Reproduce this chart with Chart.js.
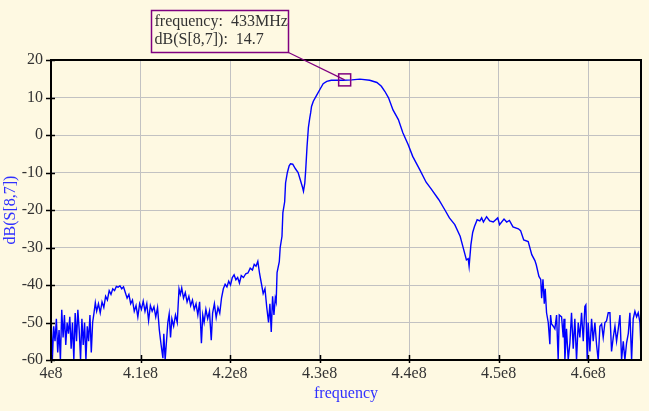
<!DOCTYPE html>
<html>
<head>
<meta charset="utf-8">
<script src="https://cdn.jsdelivr.net/npm/chart.js@4.4.1/dist/chart.umd.min.js"></script>
<style>
  html, body { margin: 0; padding: 0; background: #fef9e2; }
  #wrap { width: 649px; height: 411px; }
</style>
</head>
<body>
<div id="wrap"><canvas id="sparamChart" width="649" height="411"></canvas></div>
<script>
// frequency sweep in MHz
const freqMHz = [
  400.0, 400.15, 400.3, 400.45, 400.6, 400.75, 400.9, 401.05, 401.2, 401.35,
  401.5, 401.65, 401.8, 401.95, 402.1, 402.25, 402.4, 402.55, 402.7, 402.85,
  403.0, 403.15, 403.3, 403.45, 403.6, 403.75, 403.9, 404.05, 404.2, 404.35,
  404.5, 404.65, 404.8, 404.95, 405.1, 405.3, 405.5, 405.7, 405.9, 406.1,
  406.3, 406.5, 406.7, 406.9, 407.1, 407.3, 407.5, 407.7, 407.9, 408.1,
  408.3, 408.5, 408.7, 408.9, 409.1, 409.3, 409.5, 409.7, 409.9, 410.1,
  410.3, 410.5, 410.7, 410.9, 411.1, 411.3, 411.5, 411.7, 411.9, 412.1,
  412.3, 412.5, 412.6, 412.75, 412.9, 413.05, 413.2, 413.35, 413.5, 413.7,
  413.9, 414.1, 414.3, 414.45, 414.6, 414.8, 415.0, 415.2, 415.4, 415.6,
  415.8, 416.0, 416.2, 416.4, 416.6, 416.8, 416.95, 417.1, 417.3, 417.5,
  417.7, 417.9, 418.05, 418.25, 418.45, 418.65, 418.85, 419.05, 419.25, 419.45,
  419.65, 419.85, 420.05, 420.25, 420.45, 420.65, 420.85, 421.05, 421.25, 421.5,
  421.75, 422.0, 422.25, 422.5, 422.7, 422.9, 423.1, 423.3, 423.5, 423.7,
  423.9, 424.1, 424.3, 424.45, 424.6, 424.75, 424.9, 425.05, 425.15, 425.25,
  425.5, 425.6, 425.8, 425.9, 426.1, 426.2, 426.4, 426.6, 426.75, 427.0,
  427.3, 427.6, 427.85, 428.1, 428.2, 428.35, 428.45, 428.6, 428.75, 428.9,
  429.0, 429.1, 429.3, 429.65, 430.0, 430.4, 430.8, 431.3, 432.6, 433.6,
  434.5, 435.6, 436.4, 436.9, 437.3, 437.7, 438.2, 438.8, 439.3, 439.9,
  440.4, 441.2, 441.9, 442.5, 443.3, 444.0, 444.5, 445.1, 445.7, 446.0,
  446.4, 446.6, 446.7, 446.9, 447.1, 447.3, 447.6, 447.9, 448.1, 448.3,
  448.65, 449.0, 449.4, 449.9, 450.1, 450.6, 450.9, 451.2, 451.6, 452.2,
  452.45, 452.8, 453.3, 453.7, 454.05, 454.2, 454.5, 454.7, 454.8, 454.95,
  455.1, 455.2, 455.35, 455.54, 455.72, 455.8, 455.91, 456.1, 456.28, 456.47,
  456.65, 456.77, 457.03, 457.21, 457.3, 457.4, 457.58, 457.77, 457.96, 458.14,
  458.33, 458.51, 458.7, 458.89, 459.07, 459.26, 459.45, 459.63, 459.74, 459.89,
  460.0, 460.19, 460.38, 460.56, 460.75, 460.94, 461.12, 461.31, 461.5, 461.68,
  461.87, 462.05, 462.24, 462.43, 462.61, 462.8, 462.99, 463.17, 463.36, 463.55,
  463.73, 463.92, 464.1, 464.29, 464.48, 464.66, 464.85, 465.03, 465.22, 465.41,
  465.59, 465.78, 465.9
];

// dB(S[8,7]) at each frequency above
const gainDb = [
  -48, -60, -51, -55, -49, -58, -52, -60, -46.6, -54,
  -48, -56, -50, -53, -48.5, -57, -50, -60, -47.5, -55,
  -46.6, -52, -60, -49, -56, -50, -60, -51, -55, -48,
  -58, -50, -47.5, -44.7, -47, -45, -47.4, -44.5, -46, -43,
  -44, -41.5, -42.5, -41, -41.5, -40.4, -40.6, -40.2, -41, -40.5,
  -42, -43.5, -42.5, -45, -44, -47, -45.5, -48.5, -45, -46.5,
  -44.3, -47, -45, -49.5, -45.5, -47, -45.8, -48.5, -46, -52,
  -56, -59.5, -53, -60, -55, -50, -47.7, -54, -49, -51,
  -48, -50, -41, -42.5, -40.8, -43.5, -42, -44.5, -43, -45.5,
  -44, -46.5, -45, -48, -44.5, -55.5, -48, -50, -46.5, -49,
  -47, -54.7, -47.5, -45, -48.7, -46, -47.5, -43.4, -41, -39.8,
  -40.5, -39, -40, -38, -37.3, -38.6, -38, -39.5, -37.5, -38,
  -37, -36.8, -35.5, -36, -34.5, -35, -33.7, -37, -39.6, -42.3,
  -41, -46, -50, -45, -52.5, -43, -48, -43.5, -44.5, -36.7,
  -33.8, -30, -27, -20.7, -17.8, -12.8, -10, -8.2, -7.7, -7.8,
  -9, -10, -12, -14, -15, -12.8, -9.3, -3, 2, 4.5,
  5.9, 7.6, 9, 10.5, 12, 13.7, 14.3, 14.6, 14.6, 14.7,
  14.9, 14.6, 14.0, 13, 11.6, 9.9, 6.7, 4.1, 0.6, -2.6,
  -5.7, -9.3, -12.6, -14.5, -17.2, -20, -22.1, -23.9, -27, -29.7,
  -33.3, -33, -35, -29.3, -26, -24.4, -22.6, -22.9, -22.1, -23.2,
  -21.8, -22.9, -23.2, -22.1, -23.9, -22.4, -23.2, -22.8, -24.5, -25,
  -25.5, -28, -28.4, -31.9, -33.5, -34.6, -37.7, -38.5, -43.5, -38.5,
  -45, -41, -47.4, -50, -55.8, -48, -50.4, -51, -51.7, -48,
  -60, -48, -48.5, -54, -49, -60, -51.7, -60, -55.4, -47.4,
  -57, -49, -60, -50, -54, -47.4, -55, -45.7, -45.3, -60,
  -50, -57.7, -49, -55, -50, -56, -60, -51, -50.4, -54,
  -50, -49.6, -47.4, -47.4, -57.7, -54, -51, -55, -51.7, -48,
  -60, -55, -60, -55.4, -53, -47.4, -60, -49, -47, -48.5,
  -47.4, -50, -57
];

const xTicks = [400, 410, 420, 430, 440, 450, 460];
const xTickLabels = ["4e8", "4.1e8", "4.2e8", "4.3e8", "4.4e8", "4.5e8", "4.6e8"];
const yTicks = [-60, -50, -40, -30, -20, -10, 0, 10, 20];

// marker readout
const markerFreq = 432.8;
const markerDb = 14.7;
const markerLines = ["frequency:  433MHz", "dB(S[8,7]):  14.7"];

const SERIF = "'Liberation Serif', 'DejaVu Serif', serif";
const BG = "#fef9e2";

const points = freqMHz.map((f, i) => ({ x: f, y: gainDb[i] }));

const decorPlugin = {
  id: "decor",
  beforeDraw(chart) {
    const ctx = chart.ctx;
    ctx.save();
    ctx.fillStyle = BG;
    ctx.fillRect(0, 0, chart.width, chart.height);
    ctx.restore();
  },
  afterDraw(chart) {
    const ctx = chart.ctx;
    const { left, right, top, bottom } = chart.chartArea;
    const xs = chart.scales.x;
    const ys = chart.scales.y;
    ctx.save();

    // frame
    ctx.strokeStyle = "#000";
    ctx.lineWidth = 2;
    ctx.strokeRect(left, top, right - left, bottom - top);

    // tick marks crossing the axes
    ctx.lineWidth = 1.5;
    ctx.beginPath();
    yTicks.forEach((v) => {
      const py = Math.round(ys.getPixelForValue(v)) + 0.5;
      ctx.moveTo(left - 5, py);
      ctx.lineTo(left + 4, py);
    });
    xTicks.forEach((v) => {
      const px = Math.round(xs.getPixelForValue(v)) + 0.5;
      ctx.moveTo(px, bottom - 5);
      ctx.lineTo(px, bottom + 3);
    });
    ctx.stroke();

    // marker square and leader line
    const mx = xs.getPixelForValue(markerFreq);
    const my = ys.getPixelForValue(markerDb);
    const box = { x: 151.5, y: 10.5, w: 137, h: 42 };
    ctx.strokeStyle = "#800080";
    ctx.lineWidth = 1.5;
    ctx.strokeRect(mx - 6, my - 6, 12, 12);
    ctx.lineWidth = 1.2;
    ctx.beginPath();
    ctx.moveTo(box.x + box.w, box.y + box.h);
    ctx.lineTo(mx, my);
    ctx.stroke();

    // readout box
    ctx.fillStyle = BG;
    ctx.fillRect(box.x, box.y, box.w, box.h);
    ctx.lineWidth = 1.5;
    ctx.strokeRect(box.x, box.y, box.w, box.h);
    ctx.fillStyle = "#333";
    ctx.font = "16px " + SERIF;
    ctx.textBaseline = "alphabetic";
    ctx.textAlign = "left";
    ctx.fillText(markerLines[0], box.x + 3, 25.5);
    ctx.fillText(markerLines[1], box.x + 3, 44);

    ctx.restore();
  },
};

new Chart(document.getElementById("sparamChart"), {
  type: "scatter",
  data: {
    datasets: [
      {
        label: "dB(S[8,7])",
        data: points,
        showLine: true,
        borderColor: "#0000ff",
        borderWidth: 1.4,
        pointRadius: 0,
        tension: 0,
      },
    ],
  },
  options: {
    responsive: false,
    animation: false,
    devicePixelRatio: 1,
    layout: { padding: { top: 60, right: 8, left: 0, bottom: 0 } },
    plugins: {
      legend: { display: false },
      tooltip: { enabled: false },
    },
    scales: {
      x: {
        type: "linear",
        min: 400,
        max: 465.9,
        afterFit: (s) => { s.height = 51; },
        afterBuildTicks: (s) => { s.ticks = xTicks.map((v) => ({ value: v })); },
        grid: { color: "#c2c2c2", lineWidth: 1, drawTicks: false },
        border: { display: false },
        ticks: {
          padding: 4,
          maxRotation: 0,
          color: "#333",
          font: { family: SERIF, size: 16 },
          callback: (v) => xTickLabels[xTicks.indexOf(v)],
        },
        title: {
          display: true,
          text: "frequency",
          color: "#3030ff",
          font: { family: SERIF, size: 16 },
          padding: { top: 0, bottom: 8 },
        },
      },
      y: {
        min: -60,
        max: 20,
        afterFit: (s) => { s.width = 51; },
        afterBuildTicks: (s) => { s.ticks = yTicks.map((v) => ({ value: v })); },
        grid: { color: "#c2c2c2", lineWidth: 1, drawTicks: false },
        border: { display: false },
        ticks: {
          padding: 8,
          color: "#333",
          font: { family: SERIF, size: 16 },
        },
        title: {
          display: true,
          text: "dB(S[8,7])",
          color: "#3030ff",
          font: { family: SERIF, size: 16 },
          padding: { top: 1, bottom: 0 },
        },
      },
    },
  },
  plugins: [decorPlugin],
});
</script>
</body>
</html>
